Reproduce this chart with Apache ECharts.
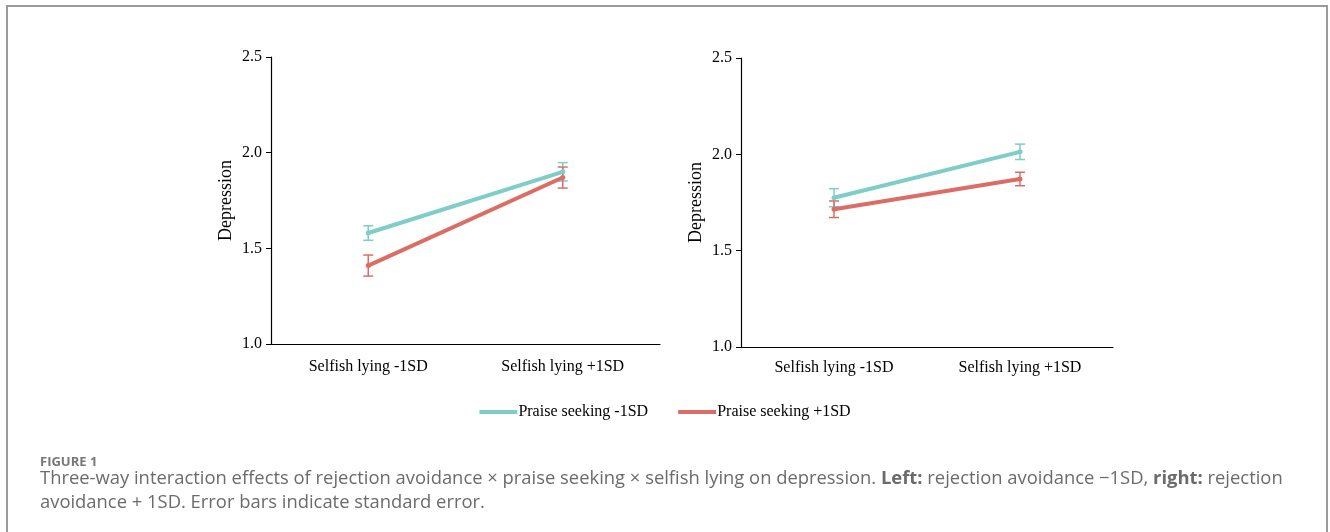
<!DOCTYPE html>
<html>
<head>
<meta charset="utf-8">
<script src="https://cdn.jsdelivr.net/npm/echarts@6/dist/echarts.min.js"></script>
<style>
html,body{margin:0;padding:0;background:#fff;}
#c{width:1330px;height:532px;}
</style>
</head>
<body>
<div id="c"></div>
<script>
var categories = ['Selfish lying -1SD', 'Selfish lying +1SD'];
var seriesNames = ['Praise seeking -1SD', 'Praise seeking +1SD'];
var yTicks = [1.0, 1.5, 2.0, 2.5];
// Left panel: rejection avoidance -1SD
var leftLow = [1.58, 1.90];
var leftLowSE = [0.038, 0.048];
var leftHigh = [1.41, 1.87];
var leftHighSE = [0.055, 0.055];
// Right panel: rejection avoidance +1SD
var rightLow = [1.775, 2.013];
var rightLowSE = [0.047, 0.04];
var rightHigh = [1.715, 1.872];
var rightHighSE = [0.043, 0.035];

var teal = '#7ecdc7';
var red = '#dc6d66';
var serif = '"Liberation Serif", "Times New Roman", serif';

function errSeries(means, se, color, gi) {
  return {
    type: 'custom',
    xAxisIndex: gi, yAxisIndex: gi,
    silent: true,
    z: 1,
    data: means.map(function (m, i) { return [i, m - se[i], m + se[i]]; }),
    renderItem: function (params, api) {
      var lo = api.coord([api.value(0), api.value(1)]);
      var hi = api.coord([api.value(0), api.value(2)]);
      var w = 5;
      var st = { stroke: color, lineWidth: 1.5 };
      return {
        type: 'group',
        children: [
          { type: 'line', shape: { x1: lo[0], y1: lo[1], x2: hi[0], y2: hi[1] }, style: st },
          { type: 'line', shape: { x1: lo[0] - w, y1: lo[1], x2: lo[0] + w, y2: lo[1] }, style: st },
          { type: 'line', shape: { x1: hi[0] - w, y1: hi[1], x2: hi[0] + w, y2: hi[1] }, style: st }
        ]
      };
    }
  };
}
function lineSeries(name, data, color, gi) {
  return {
    type: 'line', name: name, data: data,
    xAxisIndex: gi, yAxisIndex: gi,
    z: 2,
    symbol: 'circle', symbolSize: 5, showSymbol: true,
    itemStyle: { color: color },
    lineStyle: { color: color, width: 4 },
    emphasis: { disabled: true },
    animation: false
  };
}
function xAxis(gi) {
  return {
    type: 'category', gridIndex: gi, data: categories,
    axisLine: { lineStyle: { color: '#000', width: 1.2 } },
    axisTick: { show: false },
    axisLabel: { color: '#000', fontFamily: serif, fontSize: 16, margin: gi ? 13 : 15 }
  };
}
function yAxis(gi) {
  return {
    type: 'value', gridIndex: gi, min: 1, max: 2.5, interval: 0.5,
    name: 'Depression', nameLocation: 'middle', nameGap: 36, nameRotate: 90,
    nameTextStyle: { color: '#000', fontFamily: serif, fontSize: 18 },
    splitLine: { show: false },
    axisLine: { show: true, lineStyle: { color: '#000', width: 1.2 } },
    axisTick: { show: true, length: 5, lineStyle: { color: '#000' } },
    axisLabel: {
      color: '#000', fontFamily: serif, fontSize: 16, margin: 9,
      formatter: function (v) { return yTicks.indexOf(v) >= 0 ? v.toFixed(1) : ''; }
    }
  };
}

var chart = echarts.init(document.getElementById('c'));
chart.setOption({
  animation: false,
  backgroundColor: '#fff',
  grid: [
    { left: 271, top: 57, width: 389, height: 287 },
    { left: 741, top: 58, width: 372, height: 289 }
  ],
  xAxis: [xAxis(0), xAxis(1)],
  yAxis: [yAxis(0), yAxis(1)],
  legend: {
    data: seriesNames.map(function (n, i) {
      return { name: n, icon: 'rect', itemStyle: { color: i ? red : teal } };
    }),
    left: 'center', top: 399,
    itemWidth: 38, itemHeight: 4, itemGap: 30,
    selectedMode: false,
    textStyle: { color: '#000', fontFamily: serif, fontSize: 16, padding: [0, 0, 0, -4] }
  },
  graphic: [
    { type: 'rect', shape: { x: 7, y: 6, width: 1320, height: 540 }, style: { fill: 'none', stroke: '#9a9a9a', lineWidth: 2 }, silent: true },
    { type: 'text', left: 40, top: 456, style: { text: 'FIGURE 1', fill: '#777', font: 'bold 13px "Open Sans", sans-serif' } },
    { type: 'text', left: 40, top: 470, style: {
      text: '{n|Three-way interaction effects of rejection avoidance \u00d7 praise seeking \u00d7 selfish lying on depression. }{b|Left:}{n| rejection avoidance \u22121SD, }{b|right:}{n| rejection}\n{n|avoidance + 1SD. Error bars indicate standard error.}',
      rich: {
        n: { fill: '#6b6b6b', fontFamily: '"Open Sans", sans-serif', fontSize: 18.4, lineHeight: 24 },
        b: { fill: '#6b6b6b', fontFamily: '"Open Sans", sans-serif', fontSize: 18.4, fontWeight: 'bold', lineHeight: 24 }
      }
    } }
  ],
  series: [
    errSeries(leftLow, leftLowSE, teal, 0),
    errSeries(leftHigh, leftHighSE, red, 0),
    lineSeries(seriesNames[0], leftLow, teal, 0),
    lineSeries(seriesNames[1], leftHigh, red, 0),
    errSeries(rightLow, rightLowSE, teal, 1),
    errSeries(rightHigh, rightHighSE, red, 1),
    lineSeries(seriesNames[0], rightLow, teal, 1),
    lineSeries(seriesNames[1], rightHigh, red, 1)
  ]
});
</script>
</body>
</html>
